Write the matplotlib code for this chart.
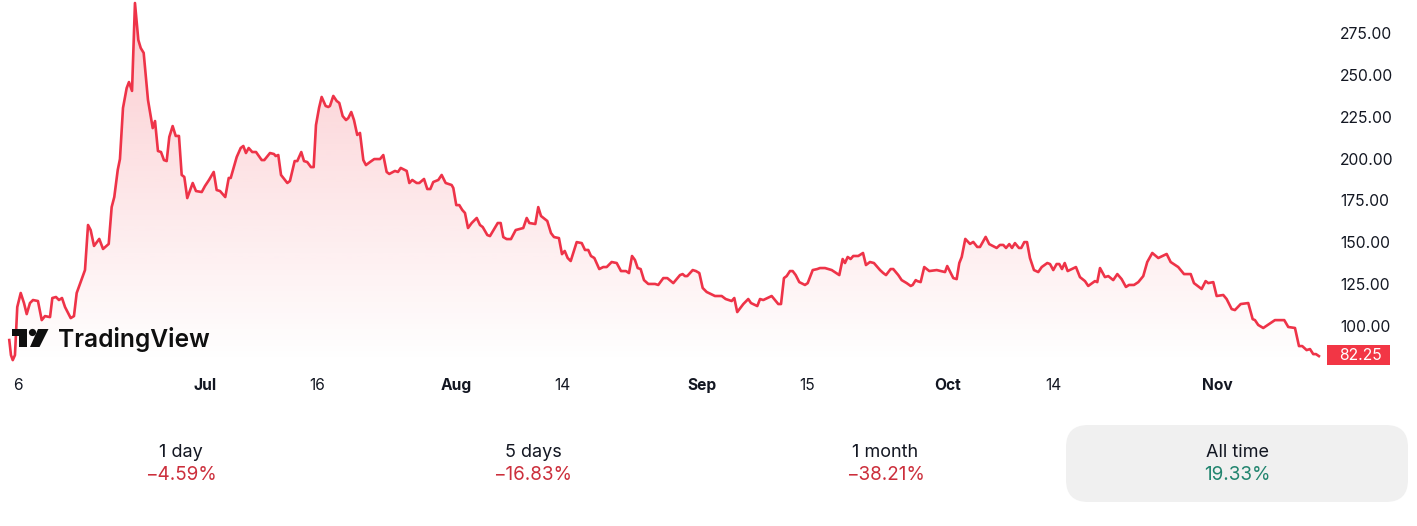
import numpy as np
import matplotlib
matplotlib.use("Agg")
import matplotlib.pyplot as plt
from matplotlib.patches import Circle, FancyBboxPatch, Polygon, Rectangle

# trading sessions since the "6" tick, price in USD
sessions = [
    -0.83, -0.67, -0.50, -0.29, -0.07, 0.26, 0.57, 0.83, 1.14, 1.43, 1.90, 2.26, 2.57, 3.05, 3.27, 3.62,
    3.90, 4.19, 4.48, 5.02, 5.33, 5.59, 6.38, 6.67, 6.92, 7.24, 7.74, 8.10, 8.64, 8.92, 9.17, 9.50,
    9.71, 10.00, 10.35, 10.57, 10.86, 11.14, 11.46, 11.69, 11.97, 12.38, 12.83, 13.05, 13.33, 13.62, 13.90, 14.16,
    14.41, 14.73, 15.02, 15.33, 15.59, 15.84, 16.12, 16.64, 16.95, 17.50, 17.81, 18.19, 18.64, 18.92, 19.24, 19.74,
    20.07, 20.26, 20.83, 21.21, 21.46, 21.71, 21.97, 22.31, 22.67, 23.21, 23.46, 24.00, 24.38, 24.54, 24.79, 25.05,
    25.65, 25.90, 26.35, 26.60, 26.98, 27.24, 27.55, 27.90, 28.16, 28.38, 28.67, 28.92, 29.30, 29.55,
    29.71, 30.03, 30.35, 30.60, 30.92, 31.24, 31.46, 31.74, 32.00, 32.31, 32.57, 32.89, 33.14, 33.52, 33.93, 34.48,
    34.79, 35.11, 35.36, 35.90, 36.19, 36.45, 37.02, 37.27, 37.55, 37.97, 38.22, 38.67, 38.98, 39.27, 39.55, 40.03,
    40.35, 40.73, 41.30, 41.46, 41.74, 42.03, 42.31, 42.57, 42.86, 43.21, 43.69, 44.00, 44.26, 44.70, 44.95, 45.69,
    45.97, 46.22, 46.54, 46.95, 47.40, 48.12, 48.45, 48.70, 49.27, 49.55, 49.81, 50.41, 50.76, 51.05, 51.52, 51.81,
    52.07, 52.35, 52.64, 53.21, 53.69, 54.00, 54.31, 54.57, 54.89, 55.36, 55.74, 56.07, 56.54, 57.02, 57.43, 57.90,
    58.19, 58.48, 58.76, 59.02, 59.30, 59.62, 60.03, 60.67, 60.98, 61.46, 61.84, 62.41, 63.05,
    63.30, 63.52, 63.74, 64.26, 64.57, 64.89, 65.21, 65.59, 66.38, 67.02, 67.40, 67.97, 68.22, 68.50, 69.08, 69.55,
    69.81, 70.41, 70.67, 70.98, 71.78, 72.41, 72.67, 72.95, 73.21, 73.52, 73.78, 74.07, 74.41, 74.95, 75.21, 75.69,
    76.12, 76.38, 76.86, 77.50, 78.22, 78.54, 78.76, 79.02, 79.30, 79.55, 80.03, 80.48, 80.76, 81.14, 81.52, 82.10,
    82.41, 82.67, 83.11, 83.36, 83.84, 84.16, 84.64, 85.02, 85.21, 85.50, 85.65, 85.97, 86.31, 86.79, 87.50, 88.29,
    88.50, 89.08, 89.40, 89.65, 89.88, 90.22, 90.67, 90.98, 91.36, 91.62, 92.16, 92.50, 93.21, 93.52, 93.84, 94.10,
    94.41, 94.67, 94.95, 95.33, 95.55, 95.84, 96.10, 96.38,
    96.76, 97.17, 97.50, 98.03, 98.29, 98.60, 98.92, 99.17, 99.43, 99.69, 99.97, 100.76, 101.14, 101.62, 101.93, 102.57,
    102.79, 103.05, 103.52, 103.84, 104.31, 104.70, 105.11, 105.52, 105.81, 106.29, 106.70, 107.17, 107.55, 108.03, 108.60, 109.40,
    109.78, 110.50, 111.05, 111.69, 112.00, 112.73, 113.11, 113.36, 113.84, 114.16, 114.79, 115.11, 115.59, 115.90, 116.45, 117.17,
    117.59, 117.81, 118.12, 118.60, 119.71, 120.60, 120.98, 121.62, 122.00, 122.31, 122.73, 123.05, 123.36, 123.62, 123.90,
]
prices = [
    91.6, 82.6, 79.6, 82.6, 111.3, 119.7, 113.7, 107.1, 113.7, 115.5, 114.9, 103.5, 105.9, 105.3, 116.7, 117.3,
    115.5, 116.7, 111.3, 104.7, 105.9, 119.7, 133.4, 160.3, 157.3, 147.8, 152.0, 146.0, 149.0, 171.0, 177.0, 193.2,
    199.7, 230.2, 242.1, 245.7, 240.4, 292.9, 270.8, 266.0, 263.1, 235.0, 218.2, 222.4, 204.5, 203.9, 199.1, 198.5,
    212.9, 219.4, 213.5, 213.5, 190.2, 189.0, 176.4, 185.4, 180.6, 180.0, 183.6, 187.2, 192.0, 181.2, 180.6, 177.0,
    188.4, 188.4, 200.9, 206.3, 207.5, 203.3, 206.3, 203.9, 203.9, 199.1, 199.1, 203.3, 202.7, 201.5, 202.1, 190.2,
    185.4, 186.6, 198.5, 198.5, 203.9, 198.5, 197.9, 194.9, 194.9, 220.0, 230.2, 236.8, 231.4, 230.8,
    231.4, 237.4, 234.4, 233.2, 225.4, 223.0, 224.2, 227.8, 223.0, 214.1, 215.3, 199.1, 196.1, 197.9, 199.7, 199.7,
    202.1, 192.0, 190.8, 192.6, 192.0, 194.4, 192.6, 185.4, 187.2, 185.4, 185.4, 187.8, 181.8, 181.8, 186.0, 187.2,
    190.2, 185.4, 184.2, 182.4, 172.2, 172.2, 169.3, 167.5, 158.5, 161.5, 164.5, 160.3, 159.1, 154.3, 153.7, 161.5,
    161.5, 153.1, 151.9, 151.9, 157.3, 158.5, 164.5, 161.5, 160.9, 171.0, 165.7, 162.7, 155.5, 153.1, 152.5, 142.9,
    144.8, 140.6, 138.8, 150.1, 149.5, 145.4, 145.4, 141.8, 140.6, 134.0, 135.2, 135.2, 138.2, 137.6, 132.8, 132.8,
    131.6, 141.8, 139.4, 134.6, 134.0, 127.4, 125.1, 125.1, 124.5, 128.6, 128.6, 125.6, 130.4,
    131.0, 129.8, 129.8, 133.4, 132.8, 131.6, 122.7, 120.3, 117.9, 117.9, 116.1, 114.9, 116.7, 108.3, 113.1, 116.1,
    113.7, 111.9, 116.1, 115.5, 117.9, 113.1, 113.1, 128.6, 129.8, 132.8, 132.8, 130.4, 126.2, 124.5, 125.6, 133.4,
    134.0, 134.6, 134.6, 133.4, 130.4, 140.0, 137.6, 141.2, 140.0, 141.8, 141.8, 143.6, 136.4, 138.2, 137.6, 133.4,
    131.6, 130.4, 134.0, 134.0, 130.4, 127.4, 125.6, 123.9, 124.5, 127.4, 126.8, 126.2, 135.2, 132.8, 133.4, 132.2,
    135.8, 128.6, 128.0, 137.6, 141.2, 152.0, 149.0, 150.2, 147.2, 147.2, 153.2, 148.9, 146.6, 148.4, 148.4, 146.6,
    148.9, 146.6, 149.5, 146.6, 146.6, 150.1, 150.1, 140.6,
    133.4, 132.2, 135.2, 137.6, 137.0, 133.4, 137.0, 137.0, 134.0, 137.6, 132.8, 135.2, 129.2, 126.8, 123.9, 126.8,
    126.2, 134.6, 129.2, 129.8, 127.4, 131.0, 128.0, 123.3, 124.5, 124.5, 126.2, 129.8, 138.2, 143.6, 140.6, 143.0,
    138.2, 135.2, 131.0, 131.0, 125.6, 122.1, 126.8, 125.6, 126.2, 117.9, 118.5, 116.1, 110.1, 109.5, 113.1, 113.7,
    104.1, 103.5, 100.6, 98.8, 103.5, 103.5, 99.4, 98.8, 88.0, 88.0, 85.6, 86.2, 83.2, 83.2, 82.0,
]
x_tick_pos = [0, 17.81, 28.48, 41.71, 51.81, 65.14, 75.14, 88.57, 98.57, 114.19]
x_tick_labels = ["6", "Jul", "16", "Aug", "14", "Sep", "15", "Oct", "14", "Nov"]
month_labels = ["Jul", "Aug", "Sep", "Oct", "Nov"]
y_ticks = [100, 125, 150, 175, 200, 225, 250, 275]
last_price = "82.25"
periods = ["1 day", "5 days", "1 month", "All time"]
changes = ["\u22124.59%", "\u221216.83%", "\u221238.21%", "19.33%"]

RED = "#f23645"
W, H = 1417, 526


def main():
    plt.rcParams["font.family"] = ["Inter", "DejaVu Sans"]

    fig = plt.figure(figsize=(W / 100, H / 100), dpi=100, facecolor="white")

    # chart covers 1327x368 px from the top left
    ax = fig.add_axes([0, 1 - 368 / H, 1327 / W, 368 / H])
    ax.set_xlim(-1.714, 124.67)
    ax.set_ylim(74.9, 294.7)
    for s in ax.spines.values():
        s.set_visible(False)

    # area under the line, fading out downwards
    grad = np.zeros((256, 1, 4))
    grad[..., :3] = matplotlib.colors.to_rgb(RED)
    grad[..., 3] = np.linspace(0.26, 0, 256).reshape(-1, 1)
    img = ax.imshow(grad, aspect="auto", extent=[-1.714, 124.67, 78, 294.7], zorder=1)
    fill = ax.fill_between(sessions, prices, 74.9, color="none", zorder=1)
    clip = fill.get_paths()[0]
    img.set_clip_path(clip, transform=ax.transData)
    ax.set_xlim(-1.714, 124.67)
    ax.set_ylim(74.9, 294.7)

    ax.plot(sessions, prices, color="#ee3348", linewidth=1.9, solid_joinstyle="round", zorder=2)

    ax.yaxis.tick_right()
    ax.set_yticks(y_ticks)
    ax.set_yticklabels([f"{v:.2f}" for v in y_ticks], fontsize=11.3, color="#131722")
    ax.tick_params(axis="y", length=0, pad=9.5)
    ax.set_xticks(x_tick_pos)
    ax.set_xticklabels(x_tick_labels, fontsize=11.2, color="#131722")
    ax.tick_params(axis="x", length=0, pad=7)
    for lab in ax.get_xticklabels():
        if lab.get_text() in month_labels:
            lab.set_fontweight("bold")

    # overlay in pixels for the logo, price tag and change strip
    ov = fig.add_axes([0, 0, 1, 1], facecolor="none")
    ov.set_xlim(0, W)
    ov.set_ylim(H, 0)
    ov.axis("off")

    ov.add_patch(Rectangle((1327, 345), 63, 20, facecolor=RED, edgecolor="none"))
    ov.text(1360.5, 355.5, last_price, color="white", fontsize=11.3, ha="center", va="center")

    # TradingView mark
    logo = "#0f0f0f"
    ov.add_patch(Polygon([(12, 329), (27, 329), (27, 347), (19, 347), (19, 336), (12, 336)], facecolor=logo, edgecolor="none"))
    ov.add_patch(Circle((32.5, 332.5), 3.6, facecolor=logo, edgecolor="none"))
    ov.add_patch(Polygon([(38, 329), (48.5, 329), (39.5, 347), (30, 347)], facecolor=logo, edgecolor="none"))
    ov.text(58, 339.5, "TradingView", fontsize=17.7, fontweight="semibold", color=logo, ha="left", va="center")

    ov.add_patch(FancyBboxPatch((1088, 425 + 22), 298, 33, boxstyle="round,pad=22,rounding_size=22",
                                facecolor="#f0f0f0", edgecolor="none"))
    for cx, period, change in zip([181, 533, 885, 1237], periods, changes):
        ov.text(cx, 452.5, period, fontsize=13, color="#131722", ha="center", va="center")
        color = "#22856f" if not change.startswith("\u2212") else "#cc2f3c"
        ov.text(cx, 475.5, change, fontsize=13.6, color=color, ha="center", va="center")

    fig.savefig("out.png", dpi=100)


if __name__ == "__main__":
    main()
